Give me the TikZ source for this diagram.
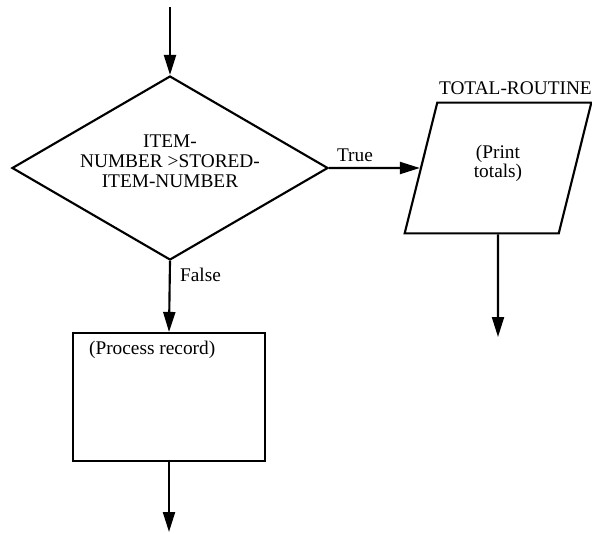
\documentclass[tikz,border=0pt]{standalone}
\usepackage{fontspec}
\setmainfont{Liberation Serif}
\usetikzlibrary{shapes.geometric,arrows.meta}

\tikzset{every picture/.style={line width=1.6pt}}
\tikzset{
  every node/.style={font=\fontsize{14.5}{15}\selectfont},
  flow/.style={-{Triangle[length=15pt,width=9pt]}},
  decision/.style={draw, diamond, aspect=1.7, minimum width=237pt, minimum height=138pt, inner sep=0pt, text depth=11pt, align=center},
  io/.style={draw, trapezium, trapezium left angle=76, trapezium right angle=104, trapezium stretches body, minimum width=140pt, inner xsep=0pt, inner ysep=32pt, text depth=10pt, align=center},
  process/.style={draw, rectangle, minimum width=144pt, minimum height=96pt, inner sep=0pt}
}

\begin{document}
\begin{tikzpicture}[x=0.75pt,y=0.75pt,yscale=-1,xscale=1]
\useasboundingbox (0,0) rectangle (592,533);

%Shape: Diamond
\draw (170,168) node [decision] (test) {ITEM-\\NUMBER >STORED-\\ITEM-NUMBER};
%Shape: Parallelogram
\draw (498,168) node [io] (totals) {(Print\\[-1pt]totals)};
%Shape: Rectangle
\draw (169,397) node [process] (record) {};

%free ends of the flow lines
\coordinate (entry) at (170,7);
\coordinate (totalsout) at (498,337);
\coordinate (recordout) at (169,532);

%Straight Lines
\draw [flow] (entry) -- (test.north);
\draw [flow] (test.east) -- (totals.west);
\draw [flow] (test.south) -- (record.north);
\draw [flow] (totals.south) -- (totalsout);
\draw [flow] (record.south) -- (recordout);

% Text Node
\draw (355,155) node [inner sep=0.75pt] (truelbl) {True};
% Text Node
\draw (178,275) node [anchor=west][inner sep=0.75pt] (falselbl) {False};
% Text Node
\draw (87,350) node [anchor=west][inner sep=0.75pt] (recordlbl) {(Process record)};
% Text Node
\draw (437,88) node [anchor=west][inner sep=0.75pt] (routine) {TOTAL-ROUTINE};

\end{tikzpicture}
\end{document}
